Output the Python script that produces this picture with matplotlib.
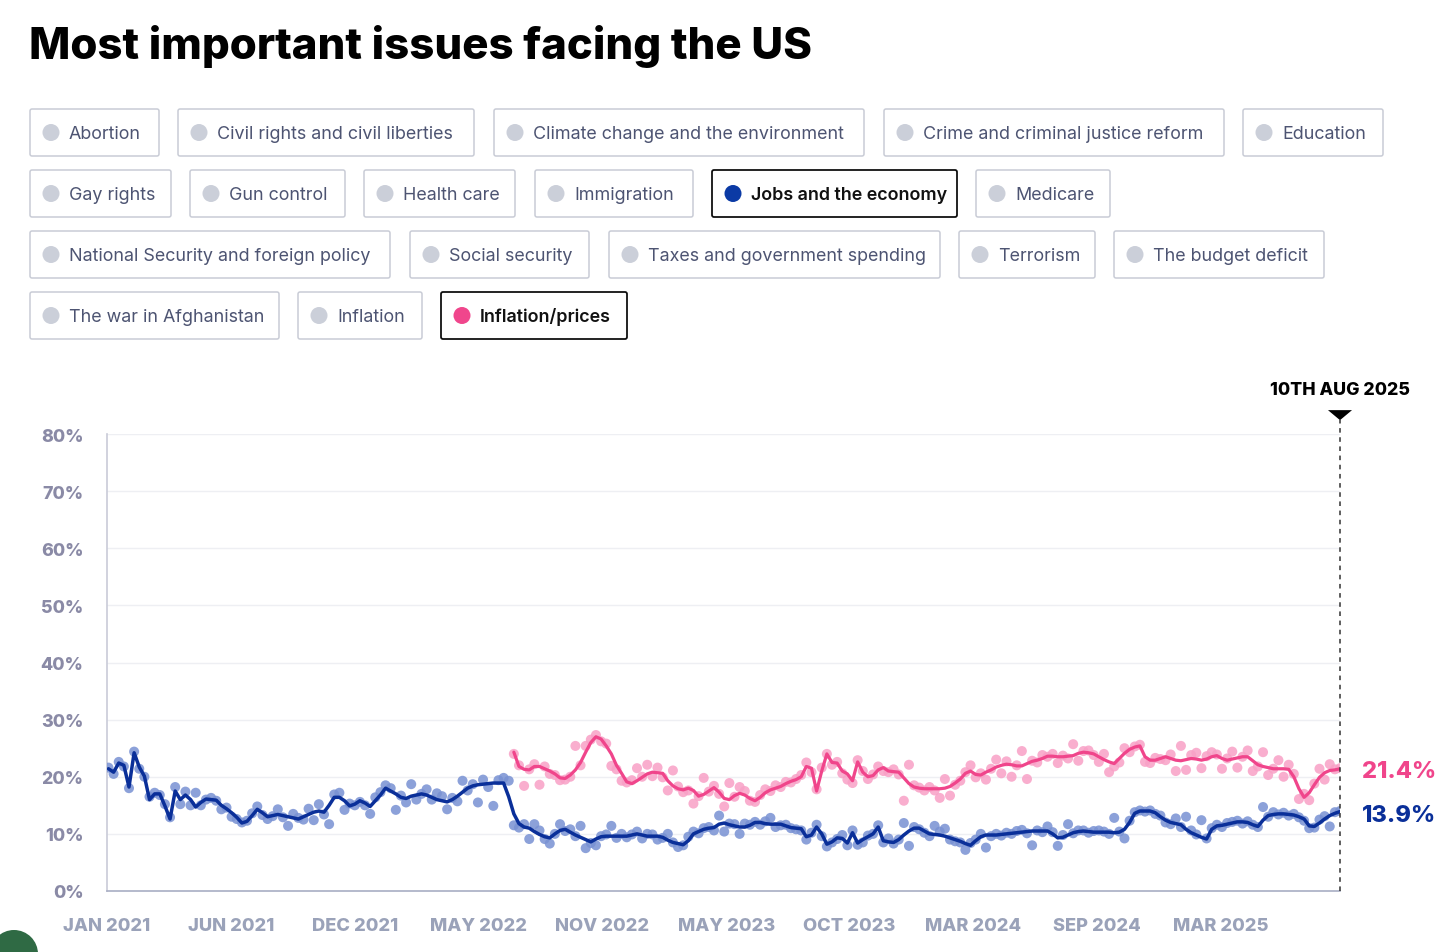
import matplotlib
matplotlib.use("Agg")
import matplotlib.pyplot as plt
import matplotlib.patches as mpatches
import pandas as pd

# ---------------- data ----------------
END_DATE = "2025-08-10"

jobs_trend = [21.4, 20.8, 22.4, 22.0, 18.2, 24.2, 21.7, 20.1, 16.0, 17.0, 17.0, 14.9, 12.6,
              17.5, 16.0, 16.8, 16.0, 14.7, 15.5, 16.1, 16.0, 15.9, 15.0, 14.4, 13.7, 12.9, 11.9,
              12.2, 13.2, 14.3, 13.7, 13.0, 13.2, 13.4, 13.2, 13.0, 12.8, 12.6, 13.0, 13.4, 13.8,
              14.0, 13.8, 15.0, 16.4, 16.4, 15.8, 14.9, 15.2, 15.8, 15.4, 14.8, 15.8, 16.8, 18.0,
              17.5, 17.0, 16.4, 16.2, 16.6, 16.8, 17.0, 16.8, 16.4, 16.0, 15.8, 15.6, 16.0, 16.6,
              17.3, 18.0, 18.4, 18.6, 18.7, 18.8, 18.9, 18.9, 18.9, 16.5, 13.5, 11.8, 11.2, 11.0,
              10.4, 9.9, 9.5, 9.3, 10.0, 10.6, 10.8, 10.3, 9.8, 9.4, 9.0, 8.6, 9.1, 9.5, 9.6, 9.6,
              9.6, 9.6, 9.6, 9.8, 10.0, 9.8, 9.6, 9.6, 9.6, 9.4, 8.9, 8.5, 8.3, 8.1, 8.8, 10.0,
              10.4, 10.8, 11.0, 11.1, 11.7, 11.9, 11.6, 11.4, 11.2, 11.2, 11.5, 12.0, 12.0, 11.8,
              11.7, 11.7, 11.7, 11.4, 11.1, 11.0, 10.9, 9.5, 9.8, 11.2, 10.0, 8.2, 8.6, 9.3, 9.2,
              8.4, 10.2, 8.4, 9.0, 9.5, 10.0, 11.2, 8.8, 8.6, 8.5, 9.0, 9.8, 10.5, 11.0, 11.0,
              10.5, 10.0, 9.9, 9.8, 9.6, 9.3, 9.0, 8.7, 8.3, 8.0, 8.8, 9.5, 9.8, 9.8, 9.8, 9.9,
              10.0, 10.1, 10.2, 10.3, 10.4, 10.5, 10.5, 10.5, 10.5, 10.0, 9.3, 9.4, 9.8, 10.2,
              10.4, 10.5, 10.4, 10.3, 10.3, 10.3, 10.3, 10.2, 10.3, 10.8, 12.0, 13.6, 14.0, 14.0,
              14.0, 13.7, 13.0, 12.4, 12.0, 11.8, 11.6, 10.8, 10.2, 9.8, 9.4, 9.1, 10.8, 11.4,
              11.5, 11.7, 11.9, 12.1, 12.1, 12.0, 11.6, 11.3, 12.4, 13.2, 13.4, 13.5, 13.5, 13.4,
              13.3, 13.0, 12.6, 11.4, 11.3, 11.9, 12.6, 13.2, 13.6, 13.9]

jobs_polls = [21.6, 20.5, 22.6, 21.8, 18.0, 24.4, 21.4, 20.0, 16.5, 17.2, 16.8, 15.2, 12.9,
              18.2, 15.2, 17.4, 15.0, 17.2, 15.0, 16.0, 16.3, 15.8, 14.3, 14.6, 13.0, 12.6, 12.0,
              12.3, 13.6, 14.8, 13.3, 12.6, 13.1, 14.3, 12.9, 11.4, 13.5, 12.8, 12.5, 14.4, 12.4,
              15.2, 13.4, 11.7, 16.9, 17.2, 14.2, 15.3, 15.0, 15.6, 15.0, 13.5, 16.4, 17.3, 18.5,
              18.0, 14.2, 16.7, 15.5, 18.7, 16.0, 17.0, 17.8, 16.0, 17.1, 16.6, 14.3, 16.3, 15.7,
              19.3, 17.6, 18.7, 15.5, 19.5, 18.2, 14.9, 19.4, 19.8, 19.3, 11.5, 11.1, 11.7, 9.1,
              11.7, 10.6, 9.1, 8.3, 10.0, 11.7, 10.5, 10.8, 9.6, 11.4, 7.5, 8.4, 8.0, 9.6, 9.9,
              11.4, 9.3, 10.0, 9.4, 9.9, 10.4, 9.2, 10.0, 9.9, 9.0, 9.3, 10.0, 8.5, 7.7, 8.0, 9.5,
              10.4, 10.1, 11.0, 11.2, 10.6, 13.2, 10.4, 11.8, 11.7, 10.0, 11.8, 11.6, 12.1, 11.6,
              12.2, 12.8, 11.2, 11.5, 11.6, 11.0, 10.8, 10.6, 9.0, 10.2, 11.6, 9.6, 7.8, 8.5, 9.1,
              9.8, 8.0, 10.6, 8.1, 8.5, 9.7, 10.0, 11.5, 8.5, 9.2, 8.3, 9.0, 11.9, 7.9, 11.2, 10.8,
              10.2, 9.6, 11.4, 10.4, 10.9, 9.0, 8.7, 8.5, 7.2, 8.4, 9.0, 10.0, 7.6, 9.6, 10.0, 9.7,
              10.2, 10.0, 10.5, 10.7, 10.1, 8.0, 10.6, 10.3, 11.3, 10.3, 7.9, 9.8, 11.7, 10.1,
              10.6, 10.6, 10.2, 10.5, 10.6, 10.4, 10.0, 12.8, 10.4, 9.2, 12.3, 13.8, 14.1, 13.9,
              14.1, 13.5, 13.2, 12.0, 11.7, 12.7, 11.2, 13.0, 10.6, 9.9, 12.4, 9.2, 11.0, 11.6,
              11.2, 11.9, 12.1, 12.3, 11.8, 12.2, 11.6, 11.2, 14.7, 13.0, 13.8, 13.4, 13.7, 13.2,
              13.5, 12.9, 12.3, 11.0, 11.1, 12.5, 13.1, 11.3, 13.8, 14.0]

infl_trend = [24.3, 21.8, 21.3, 21.2, 21.8, 21.8, 21.4, 21.0, 20.5, 19.8, 19.7, 20.3, 21.2,
              22.5, 24.3, 26.0, 27.0, 26.6, 25.4, 24.0, 22.0, 20.6, 19.1, 18.8, 19.3, 19.9, 20.5,
              20.8, 20.7, 20.6, 19.3, 18.4, 17.9, 17.7, 18.0, 17.6, 16.6, 16.9, 17.5, 18.1, 17.3,
              16.2, 16.0, 16.7, 17.1, 16.8, 16.2, 15.8, 16.4, 17.2, 17.7, 18.0, 18.3, 18.8, 19.2,
              19.5, 20.0, 21.8, 21.5, 17.5, 21.0, 24.0, 22.5, 22.4, 21.0, 20.5, 19.3, 22.6, 20.8,
              20.0, 20.2, 21.2, 21.6, 21.0, 20.9, 20.8, 19.8, 18.8, 18.2, 18.0, 17.9, 17.9, 17.9,
              17.9, 18.0, 18.3, 18.9, 19.6, 20.6, 21.0, 20.4, 20.3, 20.8, 21.2, 21.7, 22.0, 22.2,
              22.1, 21.9, 21.9, 22.3, 22.7, 22.9, 23.2, 23.6, 23.6, 23.5, 23.5, 23.6, 23.7, 24.1,
              24.3, 24.2, 24.0, 23.5, 23.0, 22.6, 22.3, 23.2, 24.1, 24.8, 25.2, 25.4, 23.5, 22.9,
              22.9, 23.2, 23.5, 23.2, 22.9, 22.8, 23.0, 23.2, 23.1, 22.9, 23.1, 23.5, 23.7, 23.2,
              22.9, 23.1, 23.3, 23.5, 23.5, 22.8, 22.1, 21.8, 21.6, 21.4, 21.4, 21.4, 21.3, 20.0,
              17.9, 16.4, 17.2, 18.6, 19.9, 20.7, 21.1, 21.2, 21.4]

infl_polls = [24.0, 22.0, 18.4, 21.3, 22.2, 18.6, 21.8, 20.5, 20.3, 19.4, 19.5, 20.0, 25.4,
              22.0, 25.4, 26.5, 27.3, 26.2, 25.8, 21.9, 21.3, 19.3, 19.0, 19.4, 21.5, 20.0, 22.1,
              20.1, 21.6, 19.9, 17.6, 21.1, 18.3, 17.3, 17.6, 15.3, 16.6, 19.8, 17.4, 18.4, 17.0,
              14.8, 18.9, 16.5, 18.2, 17.5, 15.8, 15.6, 16.8, 17.8, 17.5, 18.5, 18.2, 19.1, 19.0,
              19.6, 20.3, 22.5, 20.8, 17.8, 21.6, 24.0, 22.1, 22.6, 20.6, 19.5, 18.9, 22.9, 21.0,
              19.6, 20.4, 21.8, 21.0, 20.8, 21.3, 20.4, 15.8, 22.1, 18.5, 18.1, 17.6, 18.2, 17.6,
              16.3, 19.6, 16.7, 18.6, 19.3, 20.8, 22.0, 19.9, 20.6, 19.5, 21.4, 23.0, 20.6, 22.7,
              20.0, 22.0, 24.5, 19.6, 22.8, 22.5, 23.8, 23.5, 24.0, 22.4, 23.7, 23.2, 25.7, 22.8,
              24.5, 24.6, 23.8, 22.6, 24.0, 20.8, 21.8, 22.5, 25.0, 24.3, 25.3, 25.6, 22.6, 22.4,
              23.3, 23.1, 22.9, 23.9, 21.0, 25.4, 21.2, 23.8, 24.2, 21.5, 23.6, 24.3, 23.9, 21.4,
              23.2, 24.4, 21.6, 23.5, 24.6, 21.0, 21.8, 24.3, 20.3, 21.4, 22.9, 20.0, 22.1, 20.5,
              16.1, 17.0, 15.9, 18.8, 21.4, 19.5, 22.2, 21.3, 21.5]

y_ticks = [0, 10, 20, 30, 40, 50, 60, 70, 80]
x_tick_labels = ["JAN 2021", "JUN 2021", "DEC 2021", "MAY 2022", "NOV 2022",
                 "MAY 2023", "OCT 2023", "MAR 2024", "SEP 2024", "MAR 2025"]
x_tick_dates = ["2021-01-01", "2021-06-20", "2021-12-05", "2022-05-23", "2022-11-08",
                "2023-04-26", "2023-10-11", "2024-03-28", "2024-09-12", "2025-02-28"]

legend_rows = [
    ["Abortion", "Civil rights and civil liberties", "Climate change and the environment",
     "Crime and criminal justice reform", "Education"],
    ["Gay rights", "Gun control", "Health care", "Immigration", "Jobs and the economy", "Medicare"],
    ["National Security and foreign policy", "Social security", "Taxes and government spending",
     "Terrorism", "The budget deficit"],
    ["The war in Afghanistan", "Inflation", "Inflation/prices"],
]
selected = {"Jobs and the economy": "#0b3aa5", "Inflation/prices": "#f0468c"}

# ---------------- layout ----------------
W, H = 1456, 953
button_x = [
    [(30, 159), (178, 474), (494, 864), (884, 1224), (1243, 1383)],
    [(30, 171), (190, 345), (364, 515), (535, 693), (712, 957), (976, 1110)],
    [(30, 390), (410, 589), (609, 940), (959, 1095), (1114, 1324)],
    [(30, 279), (298, 422), (441, 627)],
]
row_top = [110, 171, 232, 293]
btn_h = 47

JOBS_LINE = "#0a2f99"
JOBS_DOT = "#7891d3"
INF_LINE = "#f0458b"
INF_DOT = "#f8a0c6"
FONT = ["Inter", "DejaVu Sans"]

fig = plt.figure(figsize=(W / 100, H / 100), dpi=100)
fig.patch.set_facecolor("white")

ov = fig.add_axes([0, 0, 1, 1], zorder=0)
ov.set_xlim(0, W)
ov.set_ylim(H, 0)
ov.axis("off")

ov.text(29, 46, "Most important issues facing the US", fontsize=31.5, fontweight="heavy",
        family=FONT, color="black", va="center", ha="left")

for r, labels in enumerate(legend_rows):
    for (x0, x1), lab in zip(button_x[r], labels):
        y0 = row_top[r]
        sel = lab in selected
        ov.add_patch(mpatches.FancyBboxPatch((x0, y0), x1 - x0, btn_h,
                                             boxstyle="round,pad=0,rounding_size=2",
                                             facecolor="white",
                                             edgecolor="#111111" if sel else "#c9ccd6",
                                             linewidth=1.3 if sel else 1.1))
        ov.add_patch(mpatches.Circle((x0 + 21, y0 + btn_h / 2), 8.5,
                                     facecolor=selected.get(lab, "#cbcfd9"), edgecolor="none"))
        ov.text(x0 + 39, y0 + btn_h / 2 + 1, lab, fontsize=12.9,
                fontweight="semibold" if sel else "normal",
                color="#111111" if sel else "#4d5472",
                family=FONT, va="center", ha="left")

# green corner badge (screenshot artefact)
ov.add_patch(mpatches.Circle((14, 955), 24, facecolor="#2f6a44", edgecolor="none"))

# ---------------- chart ----------------
left, right = 107 / W, 1340 / W
bottom, top = (H - 892) / H, (H - 435) / H
ax = fig.add_axes([left, bottom, right - left, top - bottom], zorder=2)
ax.patch.set_alpha(0)

jobs_dates = pd.date_range(end=END_DATE, periods=len(jobs_trend), freq="W-SUN")
jobs_pdates = pd.date_range(end=END_DATE, periods=len(jobs_polls), freq="W-SUN")
infl_dates = pd.date_range(end=END_DATE, periods=len(infl_trend), freq="W-SUN")
infl_pdates = pd.date_range(end=END_DATE, periods=len(infl_polls), freq="W-SUN")

ax.scatter(jobs_pdates, jobs_polls, s=52, color=JOBS_DOT, alpha=0.85, edgecolors="none", zorder=3)
ax.scatter(infl_pdates, infl_polls, s=52, color=INF_DOT, alpha=0.85, edgecolors="none", zorder=3)
ax.plot(jobs_dates, jobs_trend, color=JOBS_LINE, lw=2.5, solid_joinstyle="round",
        solid_capstyle="round", zorder=4)
ax.plot(infl_dates, infl_trend, color=INF_LINE, lw=2.3, solid_joinstyle="round",
        solid_capstyle="round", zorder=4)

x_start = pd.Timestamp("2021-01-01")
x_end = pd.Timestamp(END_DATE)
ax.set_xlim(x_start, x_end)
ax.set_ylim(0, 80)

for yv in y_ticks[1:]:
    ax.axhline(yv, color="#eeeff3", lw=1.0, zorder=1)

for s in ["top", "right"]:
    ax.spines[s].set_visible(False)
ax.spines["left"].set_color("#c9cbd8")
ax.spines["left"].set_linewidth(1.2)
ax.spines["bottom"].set_color("#a8aec4")
ax.spines["bottom"].set_linewidth(1.2)

ax.set_yticks(y_ticks)
ax.set_yticklabels([f"{v}%" for v in y_ticks], fontsize=12.8, fontweight="heavy",
                   color="#8a8aa6", family=FONT)
ax.tick_params(axis="y", length=0, pad=17)
ax.set_xticks(pd.to_datetime(x_tick_dates))
ax.set_xticklabels(x_tick_labels, fontsize=13.2, fontweight="heavy", color="#9aa2b9",
                   family=FONT)
ax.tick_params(axis="x", length=0, pad=19)

# dashed marker line for latest date
ax.plot([x_end, x_end], [0, 82.5], color="#333333", lw=1.1, ls=(0, (3, 3)),
        clip_on=False, zorder=5)
ax.scatter([x_end], [83.3], marker=[(-1.2, 0.5), (1.2, 0.5), (0, -0.5)], s=300,
           color="black", clip_on=False, zorder=6, edgecolors="none")
ax.text(x_end, 87.8, "10TH AUG 2025", fontsize=12.8, fontweight="heavy", color="black",
        ha="center", va="center", family=FONT)

ax.annotate(f"{infl_trend[-1]:.1f}%", xy=(x_end, infl_trend[-1]), xytext=(16, -1.5),
            textcoords="offset points", fontsize=17, fontweight="heavy", color=INF_LINE,
            va="center", ha="left", family=FONT, annotation_clip=False)
ax.annotate(f"{jobs_trend[-1]:.1f}%", xy=(x_end, jobs_trend[-1]), xytext=(16, -2.5),
            textcoords="offset points", fontsize=17, fontweight="heavy", color=JOBS_LINE,
            va="center", ha="left", family=FONT, annotation_clip=False)

fig.savefig("out.png", dpi=100, facecolor="white")
